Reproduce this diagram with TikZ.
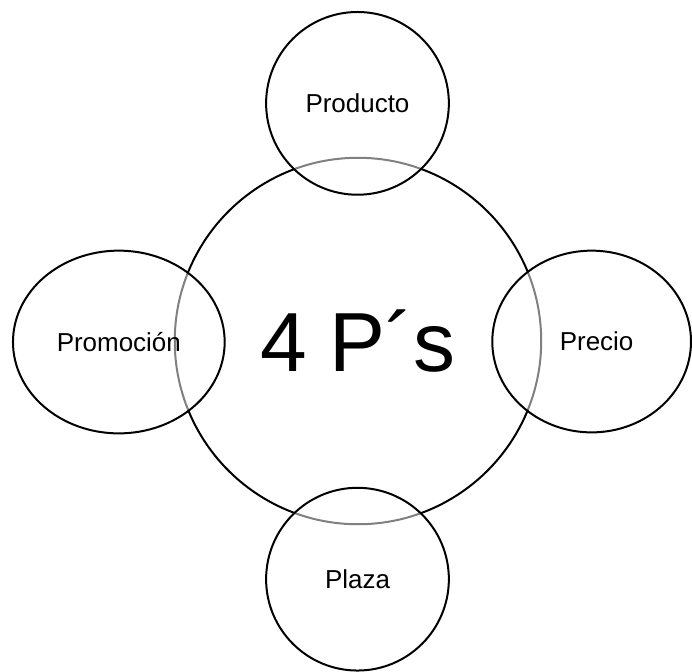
\documentclass[tikz,border=0pt]{standalone}
\usepackage{fontspec}
\setmainfont{Liberation Sans}
\usetikzlibrary{shapes.geometric}

\begin{document}
\begin{tikzpicture}[x=1pt, y=-1pt,
  pbig/.style={circle, draw=black, line width=2pt, inner sep=0pt, minimum size=367pt, font=\fontsize{84}{90}\selectfont},
  psmall/.style={ellipse, draw=black, line width=2pt, fill=white, fill opacity=0.5, text opacity=1, inner sep=0pt, font=\fontsize{26}{30}\selectfont}]

\draw[draw=none, fill=white] (0, 0) rectangle (692, 670);

\node[pbig] (P4) at (358.5, 341.5) {4 P´s};

\node[psmall, minimum width=183pt, minimum height=183pt] (Prod) at (358, 103.5) {Producto};
\node[psmall, minimum width=212pt, minimum height=183pt] (Prom) at (119, 342.5) {Promoción};
\node[psmall, minimum width=199pt, minimum height=182pt] (Prec) at (592.5, 342) {\hspace*{10pt}Precio};
\node[psmall, minimum width=183pt, minimum height=183pt] (Plaz) at (358, 580) {Plaza};

\end{tikzpicture}
\end{document}
